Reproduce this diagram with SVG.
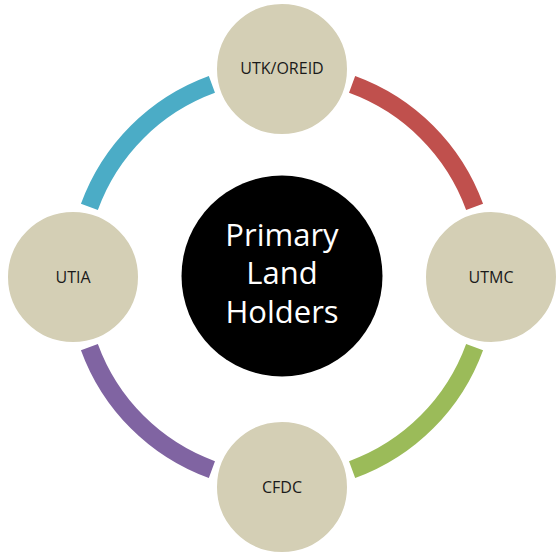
<svg xmlns="http://www.w3.org/2000/svg" width="556" height="554" viewBox="0 0 556 554">
<style>
.arc{fill:none;stroke-width:18;stroke-linecap:butt}
.sat{fill:#D4CFB5;stroke:#FFFFFF;stroke-width:2}
.lbl{font-family:"Open Sans","Liberation Sans",sans-serif;font-size:16px;fill:#1a1a1a;text-anchor:middle;dominant-baseline:central}
.ctr{font-family:"Open Sans","Liberation Sans",sans-serif;font-size:31px;fill:#FFFFFF;text-anchor:middle}
</style>
<rect width="556" height="554" fill="#FFFFFF"/>
<g id="connectors">
<path class="arc" stroke="#C0504D" d="M352.1,84.4 A205,205 0 0 1 474.6,206.9"/>
<path class="arc" stroke="#9BBB59" d="M474.6,347.1 A205,205 0 0 1 352.1,469.6"/>
<path class="arc" stroke="#8064A2" d="M211.9,469.6 A205,205 0 0 1 89.4,347.1"/>
<path class="arc" stroke="#4BACC6" d="M89.4,206.9 A205,205 0 0 1 211.9,84.4"/>
</g>
<g id="center">
<circle cx="282" cy="276" r="100.5" fill="#000000"/>
<text class="ctr" x="282" y="246">Primary</text>
<text class="ctr" x="282" y="284">Land</text>
<text class="ctr" x="282" y="323">Holders</text>
</g>
<g id="utk-oreid">
<circle class="sat" cx="282" cy="69" r="66"/>
<text class="lbl" x="282" y="68">UTK/OREID</text>
</g>
<g id="utmc">
<circle class="sat" cx="491" cy="277" r="66"/>
<text class="lbl" x="491" y="277">UTMC</text>
</g>
<g id="cfdc">
<circle class="sat" cx="282" cy="487" r="66"/>
<text class="lbl" x="282" y="487">CFDC</text>
</g>
<g id="utia">
<circle class="sat" cx="73" cy="277" r="66"/>
<text class="lbl" x="73" y="277">UTIA</text>
</g>
</svg>
